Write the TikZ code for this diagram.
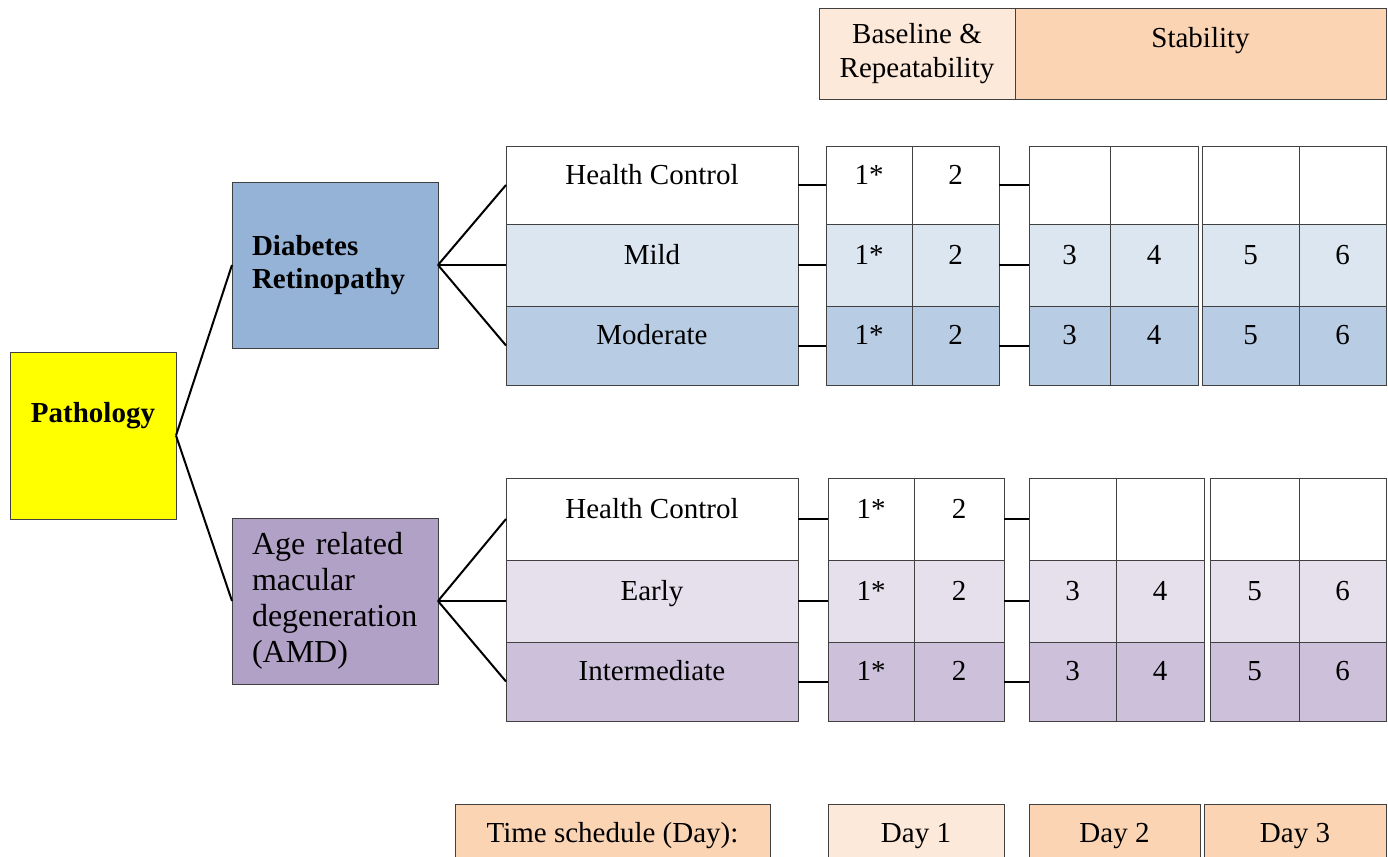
\documentclass[tikz,border=0pt]{standalone}
\usepackage{fontspec}
\setmainfont{Liberation Serif}
\definecolor{peachL}{HTML}{FDE9D9}
\definecolor{peach}{HTML}{FBD4B4}
\definecolor{yel}{HTML}{FFFF00}
\definecolor{drBox}{HTML}{95B3D7}
\definecolor{amdBox}{HTML}{B2A1C7}
\definecolor{drMild}{HTML}{DCE6F1}
\definecolor{drMod}{HTML}{B8CCE4}
\definecolor{amdEarly}{HTML}{E5E0EC}
\definecolor{amdInt}{HTML}{CCC0DA}
\definecolor{bord}{HTML}{404040}
\newcommand\bx[7]{\node[#6, minimum width={(#4-#2)*1pt}, minimum height={(#5-#3)*1pt}] (#1) at ({(#2+#4)/2},{(#3+#5)/2}) {#7};}
\tikzset{
  box/.style={draw=bord, line width=0.9pt, inner sep=0pt, outer sep=0pt, font=\fontsize{29}{34}\selectfont},
  cellt/.style={box, text height=20pt, text depth=21.8pt},
  bott/.style={box, text height=20pt, text depth=8pt},
  conn/.style={draw=black, line width=2pt},
}
\begin{document}
\begin{tikzpicture}[x=1pt,y=-1pt]
\path[use as bounding box] (0,0) rectangle (1388,856);
\clip (0,0) rectangle (1388,856);
% header
\bx{Base}{819}{8}{1015}{99}{box,fill=peachL,align=center}{Baseline \&\\Repeatability}
\bx{Stab}{1015}{8}{1386}{99}{box,fill=peach,text height=20pt,text depth=31.8pt}{Stability}
% left boxes
\bx{Path}{10}{352}{176}{519}{box,fill=yel,font=\fontsize{29}{34}\selectfont\bfseries,text height=20pt,text depth=45.8pt}{Pathology}
\bx{DR}{232}{182}{438}{348}{box,fill=drBox,font=\fontsize{29}{33}\selectfont\bfseries,align=left,text width=166pt}{Diabetes\\Retinopathy}
\bx{AMD}{232}{518}{438}{684}{box,fill=amdBox,font=\fontsize{32}{36}\selectfont,align=left,text width=166pt}{Age related\\macular\\degeneration\\(AMD)}
% DR rows
\foreach \r/\ya/\yb/\fc/\lab/\n in {h/146/224/white/Health Control/0, m/224/306/drMild/Mild/1, o/306/385/drMod/Moderate/1}{
  \bx{DR\r}{506}{\ya}{798}{\yb}{cellt,fill=\fc}{\lab}
  \bx{DR\r1}{826}{\ya}{912}{\yb}{cellt,fill=\fc}{1*}
  \bx{DR\r2}{912}{\ya}{999}{\yb}{cellt,fill=\fc}{2}
  \bx{DR\r3}{1029}{\ya}{1110}{\yb}{cellt,fill=\fc}{\ifnum\n=1 3\fi}
  \bx{DR\r4}{1110}{\ya}{1198}{\yb}{cellt,fill=\fc}{\ifnum\n=1 4\fi}
  \bx{DR\r5}{1202}{\ya}{1299}{\yb}{cellt,fill=\fc}{\ifnum\n=1 5\fi}
  \bx{DR\r6}{1299}{\ya}{1386}{\yb}{cellt,fill=\fc}{\ifnum\n=1 6\fi}
  \draw[conn] (DR.east) -- (DR\r.west);
  \draw[conn] (DR\r.east) -- (DR\r1.west);
  \draw[conn] (DR\r2.east) -- (DR\r3.west);
}
% AMD rows
\foreach \r/\ya/\yb/\fc/\lab/\n in {h/478/560/white/Health Control/0, e/560/642/amdEarly/Early/1, i/642/721/amdInt/Intermediate/1}{
  \bx{AM\r}{506}{\ya}{798}{\yb}{cellt,fill=\fc}{\lab}
  \bx{AM\r1}{828}{\ya}{914}{\yb}{cellt,fill=\fc}{1*}
  \bx{AM\r2}{914}{\ya}{1004}{\yb}{cellt,fill=\fc}{2}
  \bx{AM\r3}{1029}{\ya}{1116}{\yb}{cellt,fill=\fc}{\ifnum\n=1 3\fi}
  \bx{AM\r4}{1116}{\ya}{1204}{\yb}{cellt,fill=\fc}{\ifnum\n=1 4\fi}
  \bx{AM\r5}{1210}{\ya}{1299}{\yb}{cellt,fill=\fc}{\ifnum\n=1 5\fi}
  \bx{AM\r6}{1299}{\ya}{1386}{\yb}{cellt,fill=\fc}{\ifnum\n=1 6\fi}
  \draw[conn] (AMD.east) -- (AM\r.west);
  \draw[conn] (AM\r.east) -- (AM\r1.west);
  \draw[conn] (AM\r2.east) -- (AM\r3.west);
}
\draw[conn] (Path.east) -- (DR.west);
\draw[conn] (Path.east) -- (AMD.west);
% bottom
\bx{Time}{455}{804}{770}{868}{bott,fill=peach}{Time schedule (Day):}
\bx{D1}{828}{804}{1004}{868}{bott,fill=peachL}{Day 1}
\bx{D2}{1029}{804}{1200}{868}{bott,fill=peach}{Day 2}
\bx{D3}{1204}{804}{1386}{868}{bott,fill=peach}{Day 3}
\end{tikzpicture}
\end{document}
